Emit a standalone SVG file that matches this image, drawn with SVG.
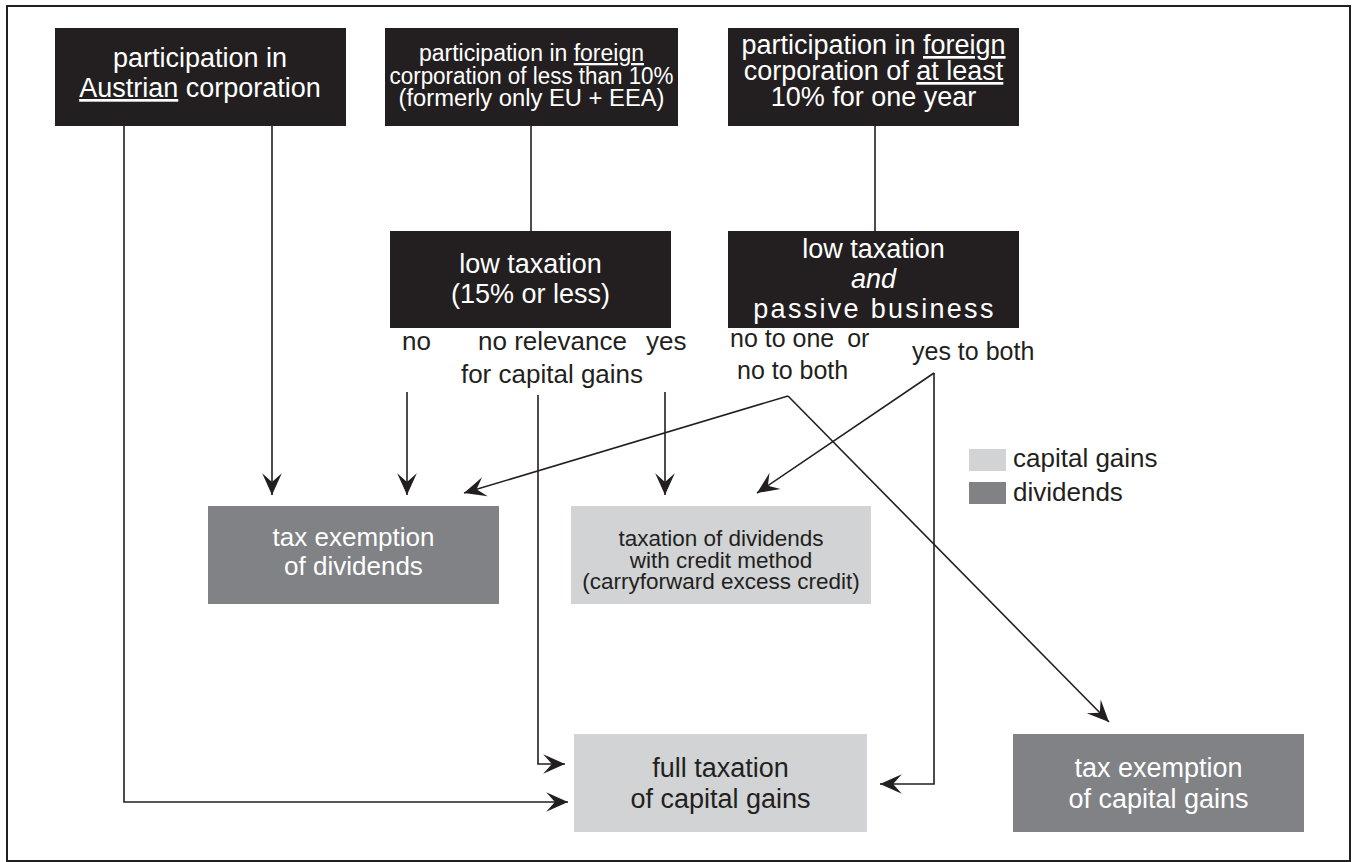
<svg xmlns="http://www.w3.org/2000/svg" width="1352" height="862" viewBox="0 0 1352 862">
<defs>
<marker id="ah" markerUnits="userSpaceOnUse" markerWidth="24" markerHeight="22" viewBox="-21 -10 22 20" refX="0" refY="0" orient="auto">
<path d="M0,0 L-20,-9 L-12,0 L-20,9 Z" fill="#231f20"/>
</marker>
</defs>
<style>
.blk{fill:#231f20}
.dk{fill:#808285}
.lt{fill:#d1d3d4}
text{font-family:"Liberation Sans",Arial,sans-serif}
.w{fill:#ffffff}
.b{fill:#231f20}
.c{text-anchor:middle}
.ln{fill:none;stroke:#231f20;stroke-width:1.6}
.u{text-decoration:underline}
</style>
<rect x="7" y="6" width="1343" height="855" fill="#ffffff" stroke="#231f20" stroke-width="2"/>

<g id="n1">
<rect class="blk" x="55" y="28" width="291" height="98"/>
<text class="w c" font-size="27"><tspan x="200" y="67">participation in</tspan><tspan x="200" y="97"><tspan class="u">Austrian</tspan> corporation</tspan></text>
</g>
<g id="n2">
<rect class="blk" x="385" y="28" width="293" height="98"/>
<text class="w c" font-size="23" x="531.5" y="61">participation in <tspan class="u">foreign</tspan></text>
<text class="w c" font-size="23" x="531.5" y="84" textLength="284" lengthAdjust="spacingAndGlyphs">corporation of less than 10%</text>
<text class="w c" font-size="23" x="531.5" y="106" textLength="266" lengthAdjust="spacingAndGlyphs">(formerly only EU + EEA)</text>
</g>
<g id="n3">
<rect class="blk" x="728" y="28" width="291" height="98"/>
<text class="w c" font-size="27"><tspan x="873.5" y="54">participation in <tspan class="u">foreign</tspan></tspan><tspan x="873.5" y="80">corporation of <tspan class="u">at least</tspan></tspan><tspan x="873.5" y="106">10% for one year</tspan></text>
</g>
<g id="n4">
<rect class="blk" x="390" y="231" width="281" height="97"/>
<text class="w c" font-size="27"><tspan x="530.5" y="273">low taxation</tspan><tspan x="530.5" y="303">(15% or less)</tspan></text>
</g>
<g id="n5">
<rect class="blk" x="728" y="231" width="291" height="97"/>
<text class="w c" font-size="27"><tspan x="873.5" y="258">low taxation</tspan><tspan x="873.5" y="288" font-style="italic">and</tspan><tspan x="874.5" y="318" letter-spacing="2.3">passive business</tspan></text>
</g>
<g id="n6">
<rect class="dk" x="208" y="506" width="291" height="98"/>
<text class="w c" font-size="26"><tspan x="353.5" y="546">tax exemption</tspan><tspan x="353.5" y="575">of dividends</tspan></text>
</g>
<g id="n7">
<rect class="lt" x="571" y="506" width="300" height="98"/>
<text class="b c" font-size="22.5"><tspan x="721" y="546">taxation of dividends</tspan><tspan x="721" y="568">with credit method</tspan><tspan x="721" y="589">(carryforward excess credit)</tspan></text>
</g>
<g id="n8">
<rect class="lt" x="574" y="734" width="293" height="98"/>
<text class="b c" font-size="27"><tspan x="720.5" y="777">full taxation</tspan><tspan x="720.5" y="808">of capital gains</tspan></text>
</g>
<g id="n9">
<rect class="dk" x="1013" y="734" width="291" height="98"/>
<text class="w c" font-size="27"><tspan x="1158.5" y="777">tax exemption</tspan><tspan x="1158.5" y="808">of capital gains</tspan></text>
</g>
<g id="legend">
<rect class="lt" x="969" y="449" width="37" height="22"/>
<rect class="dk" x="969" y="482" width="37" height="22"/>
<text class="b" font-size="26" x="1013" y="467">capital gains</text>
<text class="b" font-size="26" x="1013" y="501">dividends</text>
</g>
<g id="labels" class="b" font-size="26">
<text x="402" y="350">no</text>
<text x="478" y="350">no relevance</text>
<text x="646" y="350">yes</text>
<text x="552" y="383" class="c">for capital gains</text>
<text x="730" y="347" font-size="25">no to one <tspan dx="6">or</tspan></text>
<text x="737" y="379" font-size="25">no to both</text>
<text x="912" y="360" font-size="25">yes to both</text>
</g>
<g id="connectors">
<line class="ln" x1="531" y1="126" x2="531" y2="231"/>
<line class="ln" x1="875" y1="126" x2="875" y2="231"/>
<line class="ln" x1="272" y1="126" x2="272" y2="495" marker-end="url(#ah)"/>
<polyline class="ln" points="124,126 124,802 568,802" marker-end="url(#ah)"/>
<line class="ln" x1="407" y1="392" x2="407" y2="495" marker-end="url(#ah)"/>
<line class="ln" x1="665" y1="392" x2="665" y2="495" marker-end="url(#ah)"/>
<polyline class="ln" points="538,395 538,764 565,764" marker-end="url(#ah)"/>
<line class="ln" x1="788" y1="396" x2="464" y2="493" marker-end="url(#ah)"/>
<line class="ln" x1="788" y1="396" x2="1109" y2="722" marker-end="url(#ah)"/>
<line class="ln" x1="934" y1="373" x2="757" y2="493" marker-end="url(#ah)"/>
<polyline class="ln" points="934,373 934,784 880,784" marker-end="url(#ah)"/>
</g>
</svg>
